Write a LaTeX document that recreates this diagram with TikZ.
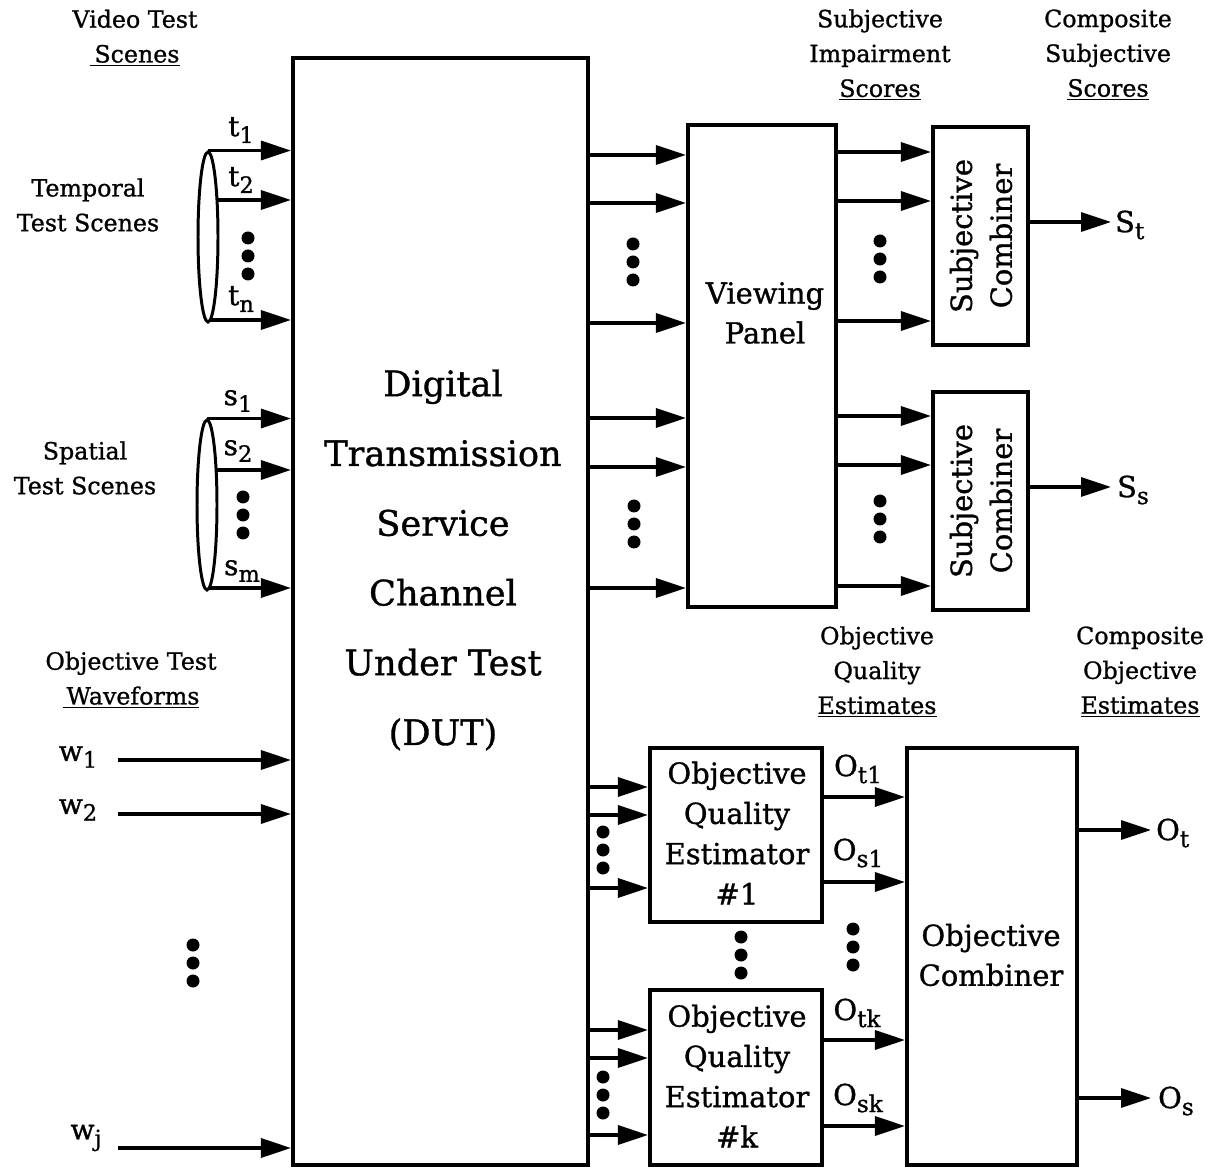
\documentclass[tikz,border=0pt]{standalone}
\usepackage{fontspec}
\setmainfont{DejaVu Serif}[FakeBold=1]
\usetikzlibrary{arrows.meta,fit,shapes.geometric}
\newcommand\subs[1]{\raisebox{-0.24em}{\scalebox{0.8}{#1}}}
\begin{document}
\begin{tikzpicture}[x=0.02cm,y=-0.02cm,
  box/.style={draw, line width=2.3pt, inner sep=0pt},
  arr/.style={line width=1.9pt, -{Triangle[length=0.6cm,width=0.38cm]}},
  bigtxt/.style={font=\fontsize{20}{39.7}\selectfont, align=center},
  medtxt/.style={font=\fontsize{16.5}{22.7}\selectfont, align=center},
  smltxt/.style={font=\fontsize{13.5}{19.8}\selectfont, align=center},
  lbl/.style={font=\fontsize{16.5}{20}\selectfont, inner sep=1pt},
  slbl/.style={font=\fontsize{16}{18}\selectfont, inner sep=1pt},
  ell/.style={draw, ellipse, line width=1.7pt, inner sep=0pt, minimum width=0.4cm, minimum height=3.4cm},
  threedots/.pic={\fill (0,-18) circle (0.13cm) (0,0) circle (0.13cm) (0,18) circle (0.13cm);}
]
\useasboundingbox (0,0) rectangle (1220,1168);

% ---------- boxes ----------
\node[box, fit={(293,58) (588,1165)}] (dut) {};
\node[bigtxt] (duttxt) at (443,560) {Digital\\Transmission\\Service\\Channel\\Under Test\\(DUT)};

\node[box, fit={(688,125) (836,607)}] (vp) {};
\node[medtxt] (vptxt) at (765,313) {Viewing\\Panel};

\node[box, fit={(933,127) (1028,345)}] (sc1) {};
\node[medtxt, rotate=90] (sc1txt) at (981,236) {Subjective\\Combiner};
\node[box, fit={(933,392) (1028,610)}] (sc2) {};
\node[medtxt, rotate=90] (sc2txt) at (981,501) {Subjective\\Combiner};

\node[box, fit={(650,748) (822,922)}] (oqe1) {};
\node[medtxt, font=\fontsize{16.5}{22.9}\selectfont] (oqe1txt) at (737,833) {Objective\\Quality\\Estimator\\\#1};
\node[box, fit={(650,990) (822,1165)}] (oqek) {};
\node[medtxt, font=\fontsize{16.5}{22.9}\selectfont] (oqektxt) at (737,1076) {Objective\\Quality\\Estimator\\\#k};

\node[box, fit={(907,748) (1077,1165)}] (oc) {};
\node[medtxt] (octxt) at (991,955) {Objective\\Combiner};

% ---------- headers ----------
\node[smltxt] (h1) at (135,38) {Video Test\\\underline{\,Scenes}};
\node[smltxt] (h2) at (88,205) {Temporal\\Test Scenes};
\node[smltxt] (h3) at (85,468) {Spatial\\Test Scenes};
\node[smltxt] (h4) at (131,680) {Objective Test\\\underline{\,Waveforms}};
\node[smltxt] (h5) at (880,55) {Subjective\\Impairment\\\underline{Scores}};
\node[smltxt] (h6) at (1108,55) {Composite\\Subjective\\\underline{Scores}};
\node[smltxt] (h7) at (877,672) {Objective\\Quality\\\underline{Estimates}};
\node[smltxt] (h8) at (1140,672) {Composite\\Objective\\\underline{Estimates}};

% ---------- temporal inputs ----------
\node[ell] (tell) at (208,237) {};
\coordinate (t2s) at (217,200);
\coordinate (tns) at (210,320);
\draw[arr] (tell.north) -- (tell.north -| dut.west);
\draw[arr] (t2s) -- (t2s -| dut.west);
\draw[arr] (tns) -- (tns -| dut.west);
\node[slbl] (t1l) at (241,130) {t\subs{1}};
\node[slbl] (t2l) at (241,180) {t\subs{2}};
\node[slbl] (tnl) at (241,299) {t\subs{n}};
\pic at (248,256) {threedots};

% ---------- spatial inputs ----------
\node[slbl] (s1l) at (238,401) {s\subs{1}};
\node[ell] (sell) at (207,505) {};
\coordinate (s2s) at (216,470);
\coordinate (sms) at (209,588);
\draw[arr] (sell.north) -- (sell.north -| dut.west);
\draw[arr] (s2s) -- (s2s -| dut.west);
\draw[arr] (sms) -- (sms -| dut.west);
\node[slbl] (s2l) at (238,451) {s\subs{2}};
\node[slbl] (sml) at (242,571) {s\subs{m}};
\pic at (243,515) {threedots};

% ---------- waveform inputs ----------
\node[slbl] (w1l) at (78,757) {w\subs{1}};
\node[slbl] (w2l) at (78,810) {w\subs{2}};
\node[slbl] (wjl) at (86,1138) {w\subs{j}};
\coordinate (w1s) at (118,760);
\coordinate (w2s) at (118,814);
\coordinate (wjs) at (118,1148);
\draw[arr] (w1s) -- (w1s -| dut.west);
\draw[arr] (w2s) -- (w2s -| dut.west);
\draw[arr] (wjs) -- (wjs -| dut.west);
\pic at (193,963) {threedots};

% ---------- DUT -> viewing panel ----------
\foreach \yy in {155,203,323,418,467,588} {
  \coordinate (tmp) at (0,\yy);
  \draw[arr] (dut.east |- tmp) -- (vp.west |- tmp);
}
\pic at (633,262) {threedots};
\pic at (634,524) {threedots};

% ---------- viewing panel -> subjective combiners ----------
\foreach \yy in {152,201,321} {
  \coordinate (tmp) at (0,\yy);
  \draw[arr] (vp.east |- tmp) -- (sc1.west |- tmp);
}
\foreach \yy in {416,465,586} {
  \coordinate (tmp) at (0,\yy);
  \draw[arr] (vp.east |- tmp) -- (sc2.west |- tmp);
}
\pic at (880,259) {threedots};
\pic at (880,519) {threedots};

% ---------- subjective outputs ----------
\coordinate (stend) at (1111,222);
\coordinate (ssend) at (1111,487);
\draw[arr] (sc1.east |- stend) -- (stend);
\draw[arr] (sc2.east |- ssend) -- (ssend);
\node[lbl, anchor=west] (stl) at (1113,225) {S\subs{t}};
\node[lbl, anchor=west] (ssl) at (1115,490) {S\subs{s}};

% ---------- DUT -> estimators ----------
\foreach \yy in {787,815,888} {
  \coordinate (tmp) at (0,\yy);
  \draw[arr] (dut.east |- tmp) -- (oqe1.west |- tmp);
}
\foreach \yy in {1030,1058,1135} {
  \coordinate (tmp) at (0,\yy);
  \draw[arr] (dut.east |- tmp) -- (oqek.west |- tmp);
}
\pic at (603,850) {threedots};
\pic at (603,1095) {threedots};
\pic at (741,955) {threedots};

% ---------- estimators -> combiner ----------
\foreach \yy in {797,882} {
  \coordinate (tmp) at (0,\yy);
  \draw[arr] (oqe1.east |- tmp) -- (oc.west |- tmp);
}
\foreach \yy in {1040,1126} {
  \coordinate (tmp) at (0,\yy);
  \draw[arr] (oqek.east |- tmp) -- (oc.west |- tmp);
}
\node[lbl] (ot1l) at (858,769) {O\subs{t1}};
\node[lbl] (os1l) at (858,853) {O\subs{s1}};
\node[lbl] (otkl) at (857,1013) {O\subs{tk}};
\node[lbl] (oskl) at (858,1098) {O\subs{sk}};
\pic at (853,947) {threedots};

% ---------- objective outputs ----------
\coordinate (otend) at (1151,830);
\coordinate (osend) at (1151,1098);
\draw[arr] (oc.east |- otend) -- (otend);
\draw[arr] (oc.east |- osend) -- (osend);
\node[lbl, anchor=west] (otl) at (1154,833) {O\subs{t}};
\node[lbl, anchor=west] (osl) at (1156,1101) {O\subs{s}};
\end{tikzpicture}
\end{document}
